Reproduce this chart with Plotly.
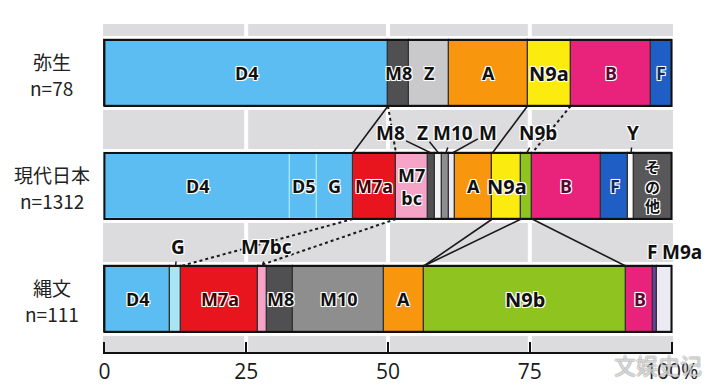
import plotly.graph_objects as go

# ---------------- data ----------------
rows = ["弥生", "現代日本", "縄文"]
row_n = [78, 1312, 111]

yayoi_groups = ["D4", "M8", "Z", "A", "N9a", "B", "F"]
yayoi_pct = [50.0, 3.7, 7.0, 13.9, 7.6, 14.1, 3.7]
yayoi_text = ["D4", "M8", "Z", "A", "N9a", "B", "F"]

modern_groups = ["D4", "D5", "G", "M7a", "M7bc", "M8", "Z", "M10", "M9a",
                 "A", "N9a", "N9b", "B", "F", "Y", "その他"]
modern_pct = [32.7, 4.8, 6.3, 7.6, 5.6, 1.2, 1.4, 1.2, 1.1,
              6.5, 5.1, 1.9, 12.1, 4.9, 0.9, 6.7]
modern_text = ["D4", "D5", "G", "M7a", "M7<br>bc", "", "", "", "",
               "A", "N9a", "", "B", "F", "", "そ<br>の<br>他"]

jomon_groups = ["D4", "G", "M7a", "M7bc", "M8", "M10", "A", "N9b", "B", "F", "M9a"]
jomon_pct = [11.6, 1.9, 13.6, 1.6, 4.6, 16.0, 7.0, 35.6, 4.9, 0.7, 2.5]
jomon_text = ["D4", "", "M7a", "", "M8", "M10", "A", "N9b", "B", "", ""]

tick_vals = [0, 25, 50, 75, 100]
tick_text = ["0", "25", "50", "75", "100%"]

# callout labels for thin segments: (row, group, label)
callouts = [
    ("現代日本", "M8", "M8"),
    ("現代日本", "Z", "Z"),
    ("現代日本", "M10", "M10"),
    ("現代日本", "M9a", "M"),
    ("現代日本", "N9b", "N9b"),
    ("現代日本", "Y", "Y"),
    ("縄文", "G", "G"),
    ("縄文", "M7bc", "M7bc"),
    ("縄文", "F", "F"),
    ("縄文", "M9a", "M9a"),
]

# connectors between bars: (row_from, group, side, row_to, group, side, dashed)
connectors = [
    ("弥生", "D4", "end", "現代日本", "M7a", "start", False),
    ("弥生", "D4", "end", "現代日本", "M7a", "end", True),
    ("弥生", "A", "end", "現代日本", "A", "end", False),
    ("弥生", "N9a", "end", "現代日本", "N9b", "end", True),
    ("現代日本", "M7a", "start", "縄文", "M7a", "start", True),
    ("現代日本", "M7a", "end", "縄文", "M7a", "end", True),
    ("現代日本", "A", "end", "縄文", "A", "end", False),
    ("現代日本", "N9a", "end", "縄文", "A", "end", False),
    ("現代日本", "N9b", "end", "縄文", "N9b", "end", False),
]

watermark = "文娱史记"

# ---------------- style ----------------
COLORS = {
    "D4": "#5bbdf2", "D5": "#5bbdf2", "G": "#5bbdf2", "M7a": "#e8141e",
    "M7bc": "#f5a3c7", "M8": "#505052", "Z": "#c9c9cb", "M10": "#8e8e8e",
    "M9a": "#ecebf4", "A": "#f8960e", "N9a": "#fbeb0e", "N9b": "#8fc31f",
    "B": "#e9227c", "F": "#1f5ec4", "Y": "#fbfbfb", "その他": "#58585a",
}
ROW_COLORS = {("現代日本", "Z"): "#f2f2f4", ("縄文", "G"): "#a8e6f6",
              ("縄文", "F"): "#6a3fa0"}
TEXT_COLORS = {"B": "#5e0632", "F": "#0e2a66", "M7a": "#4a0000"}
LINE_COLORS = {("現代日本", "D4"): "#a6e8f8", ("現代日本", "D5"): "#a6e8f8",
               ("現代日本", "G"): "#a6e8f8"}
CALLOUT_OFFSETS = {
    ("現代日本", "M8"): (-41, -20), ("現代日本", "Z"): (-16, -20),
    ("現代日本", "M10"): (7, -20), ("現代日本", "M9a"): (36, -20),
    ("現代日本", "N9b"): (11, -20), ("現代日本", "Y"): (2, -20),
    ("縄文", "G"): (2, -19), ("縄文", "M7bc"): (4, -19),
    ("縄文", "F"): (-3, -14), ("縄文", "M9a"): (18, -14),
}
ROW_Y = {"弥生": 2, "現代日本": 1, "縄文": 0}
BAR_W = 0.584
PAD = 0.036
GLOW = "1px 1px 0 #fff, -1px -1px 0 #fff, 1px -1px 0 #fff, -1px 1px 0 #fff, 0 0 2px #fff"
LAB_FONT = "Noto Sans, Noto Sans CJK JP, sans-serif"
CJK_FONT = "Noto Sans CJK JP, Noto Sans, sans-serif"

data = {
    "弥生": (yayoi_groups, yayoi_pct, yayoi_text),
    "現代日本": (modern_groups, modern_pct, modern_text),
    "縄文": (jomon_groups, jomon_pct, jomon_text),
}


def cum_starts(vals):
    out, c = [], 0.0
    for v in vals:
        out.append(c)
        c += v
    return out


def edge(row, group, side):
    g, v, _ = data[row]
    i = g.index(group)
    s = cum_starts(v)[i]
    return s if side == "start" else s + v[i]


def center(row, group):
    g, v, _ = data[row]
    i = g.index(group)
    return cum_starts(v)[i] + v[i] / 2


fig = go.Figure()
shapes = []
annotations = []

for row in rows:
    g, v, t = data[row]
    y = ROW_Y[row]
    starts = cum_starts(v)
    # white strip behind the bar
    shapes.append(dict(type="rect", xref="paper", x0=0, x1=1, yref="y",
                       y0=y - BAR_W / 2 - PAD, y1=y + BAR_W / 2 + PAD,
                       fillcolor="white", line=dict(width=0), layer="below"))
    for grp, val, st, txt in zip(g, v, starts, t):
        col = ROW_COLORS.get((row, grp), COLORS[grp])
        lc = LINE_COLORS.get((row, grp), "#333333")
        fig.add_trace(go.Bar(
            x=[val], y=[y], base=[st], orientation="h", width=BAR_W,
            marker=dict(color=col, line=dict(color=lc, width=1.2)),
            showlegend=False, hoverinfo="skip"))
        if txt:
            big = grp in ("N9a", "N9b")
            annotations.append(dict(
                x=st + val / 2, y=y, xref="x", yref="y", text=txt, showarrow=False,
                xanchor="center", yanchor="middle",
                font=dict(family=LAB_FONT if grp != "その他" else CJK_FONT,
                          size=(20 if big else 18) if grp != "その他" else 15,
                          color=TEXT_COLORS.get(grp, "#111111"),
                          weight="bold", shadow=GLOW),
                align="center"))
    total = starts[-1] + v[-1]
    shapes.append(dict(type="rect", xref="x", yref="y", x0=0, x1=total,
                       y0=y - BAR_W / 2, y1=y + BAR_W / 2,
                       line=dict(color="#111111", width=2), fillcolor="rgba(0,0,0,0)",
                       layer="above"))
    # row title and sample size, two separate lines
    annotations.append(dict(
        xref="paper", x=-0.0895, y=y, yref="y", xanchor="center", yanchor="middle",
        yshift=12, text=row, showarrow=False,
        font=dict(family=CJK_FONT, size=19, color="#222222")))
    annotations.append(dict(
        xref="paper", x=-0.0895, y=y, yref="y", xanchor="center", yanchor="middle",
        yshift=-14, text=f"n={row_n[rows.index(row)]}", showarrow=False,
        font=dict(family=CJK_FONT, size=19, color="#222222")))

# grid lines (white) on the gray background
for tv in tick_vals[1:-1]:
    shapes.append(dict(type="line", xref="x", yref="paper", x0=tv, x1=tv, y0=0, y1=1,
                       line=dict(color="white", width=4), layer="below"))

# connectors
for r0, g0, s0, r1, g1, s1, dashed in connectors:
    x0 = edge(r0, g0, s0)
    x1 = edge(r1, g1, s1)
    shapes.append(dict(type="line", xref="x", yref="y",
                       x0=x0, y0=ROW_Y[r0] - BAR_W / 2, x1=x1, y1=ROW_Y[r1] + BAR_W / 2,
                       line=dict(color="#1a1a1a", width=1.6 if not dashed else 2,
                                 dash="dot" if dashed else "solid"),
                       layer="above"))

# callouts
for row, grp, lab in callouts:
    ax, ay = CALLOUT_OFFSETS[(row, grp)]
    annotations.append(dict(
        x=center(row, grp), y=ROW_Y[row] + BAR_W / 2, xref="x", yref="y",
        text=lab, showarrow=True, arrowhead=0, arrowwidth=1.5, arrowcolor="#1a1a1a",
        ax=ax, ay=ay, standoff=0,
        font=dict(family=LAB_FONT, size=19, color="#111111", weight="bold", shadow=GLOW)))

# watermark (semi-transparent, over the last tick label as in the reference)
annotations.append(dict(
    xref="paper", yref="paper", x=(658 - 103) / 570, y=-(364 - 352) / 328,
    xanchor="center", yanchor="middle",
    text=watermark, showarrow=False,
    font=dict(family=CJK_FONT, size=22, color="rgba(255,255,255,0.55)",
              shadow="1px 0 0 rgba(120,120,120,0.6), -1px 0 0 rgba(120,120,120,0.6), "
                     "0 1px 0 rgba(120,120,120,0.6), 0 -1px 0 rgba(120,120,120,0.6)")))

fig.update_layout(
    width=712, height=386,
    margin=dict(l=103, r=39, t=24, b=34, autoexpand=False),
    paper_bgcolor="white", plot_bgcolor="#dcdcde",
    barmode="overlay", bargap=0,
    shapes=shapes, annotations=annotations,
    xaxis=dict(range=[-0.25, 100.25], tickvals=tick_vals, ticktext=tick_text,
               showgrid=False, zeroline=False, showline=True, linecolor="#111111",
               linewidth=2, ticks="inside", ticklen=10, tickwidth=2, tickcolor="#111111",
               ticklabelstandoff=0,
               tickfont=dict(family="Open Sans, Noto Sans, sans-serif", size=21, color="#1a1a1a"),
               automargin=False, fixedrange=True),
    yaxis=dict(range=[-0.469, 2.434], visible=False, fixedrange=True, automargin=False),
)

fig.write_html("out.html", config={"displayModeBar": False},
               post_script="document.body.style.margin='0';document.body.style.padding='0';")
